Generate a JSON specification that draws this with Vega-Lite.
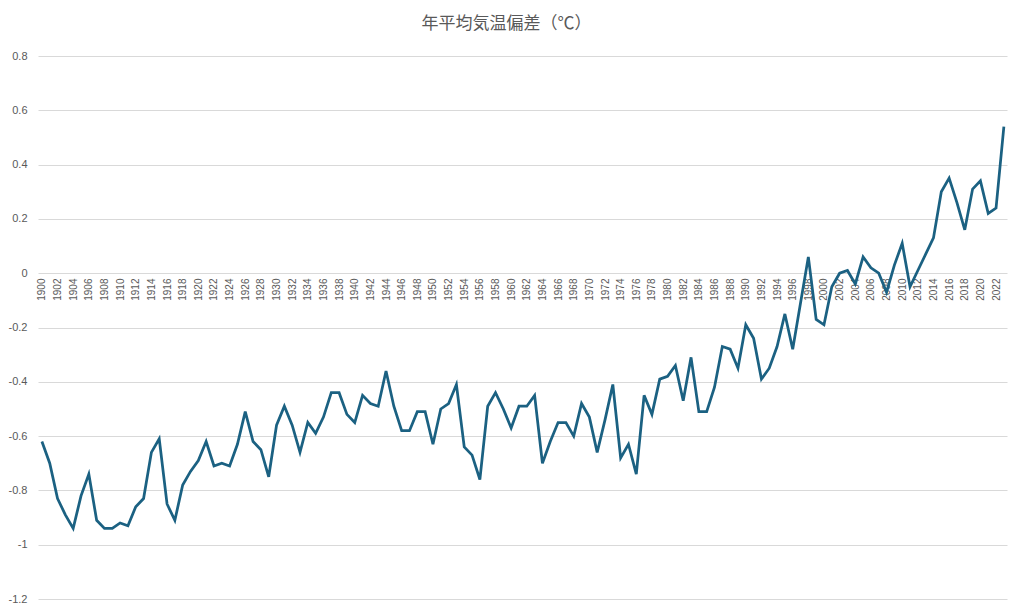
{
  "$schema": "https://vega.github.io/schema/vega-lite/v6.json",
  "autosize": {"type": "none"},
  "width": 969,
  "height": 543,
  "padding": {"left": 38, "top": 56, "right": 17, "bottom": 17},
  "background": "white",
  "title": {
    "text": "年平均気温偏差（℃）",
    "font": "Noto Sans CJK JP",
    "fontSize": 17,
    "fontWeight": "normal",
    "color": "#595959",
    "offset": 17,
    "dx": -16
  },
  "config": {"view": {"stroke": null}},
  "data": {"values": [
    {"year": 1900, "anomaly": -0.62}, {"year": 1901, "anomaly": -0.70}, {"year": 1902, "anomaly": -0.83},
    {"year": 1903, "anomaly": -0.89}, {"year": 1904, "anomaly": -0.94}, {"year": 1905, "anomaly": -0.82},
    {"year": 1906, "anomaly": -0.74}, {"year": 1907, "anomaly": -0.91}, {"year": 1908, "anomaly": -0.94},
    {"year": 1909, "anomaly": -0.94}, {"year": 1910, "anomaly": -0.92}, {"year": 1911, "anomaly": -0.93},
    {"year": 1912, "anomaly": -0.86}, {"year": 1913, "anomaly": -0.83}, {"year": 1914, "anomaly": -0.66},
    {"year": 1915, "anomaly": -0.61}, {"year": 1916, "anomaly": -0.85}, {"year": 1917, "anomaly": -0.91},
    {"year": 1918, "anomaly": -0.78}, {"year": 1919, "anomaly": -0.73}, {"year": 1920, "anomaly": -0.69},
    {"year": 1921, "anomaly": -0.62}, {"year": 1922, "anomaly": -0.71}, {"year": 1923, "anomaly": -0.70},
    {"year": 1924, "anomaly": -0.71}, {"year": 1925, "anomaly": -0.63}, {"year": 1926, "anomaly": -0.51},
    {"year": 1927, "anomaly": -0.62}, {"year": 1928, "anomaly": -0.65}, {"year": 1929, "anomaly": -0.75},
    {"year": 1930, "anomaly": -0.56}, {"year": 1931, "anomaly": -0.49}, {"year": 1932, "anomaly": -0.56},
    {"year": 1933, "anomaly": -0.66}, {"year": 1934, "anomaly": -0.55}, {"year": 1935, "anomaly": -0.59},
    {"year": 1936, "anomaly": -0.53}, {"year": 1937, "anomaly": -0.44}, {"year": 1938, "anomaly": -0.44},
    {"year": 1939, "anomaly": -0.52}, {"year": 1940, "anomaly": -0.55}, {"year": 1941, "anomaly": -0.45},
    {"year": 1942, "anomaly": -0.48}, {"year": 1943, "anomaly": -0.49}, {"year": 1944, "anomaly": -0.36},
    {"year": 1945, "anomaly": -0.49}, {"year": 1946, "anomaly": -0.58}, {"year": 1947, "anomaly": -0.58},
    {"year": 1948, "anomaly": -0.51}, {"year": 1949, "anomaly": -0.51}, {"year": 1950, "anomaly": -0.63},
    {"year": 1951, "anomaly": -0.50}, {"year": 1952, "anomaly": -0.48}, {"year": 1953, "anomaly": -0.41},
    {"year": 1954, "anomaly": -0.64}, {"year": 1955, "anomaly": -0.67}, {"year": 1956, "anomaly": -0.76},
    {"year": 1957, "anomaly": -0.49}, {"year": 1958, "anomaly": -0.44}, {"year": 1959, "anomaly": -0.50},
    {"year": 1960, "anomaly": -0.57}, {"year": 1961, "anomaly": -0.49}, {"year": 1962, "anomaly": -0.49},
    {"year": 1963, "anomaly": -0.45}, {"year": 1964, "anomaly": -0.70}, {"year": 1965, "anomaly": -0.62},
    {"year": 1966, "anomaly": -0.55}, {"year": 1967, "anomaly": -0.55}, {"year": 1968, "anomaly": -0.60},
    {"year": 1969, "anomaly": -0.48}, {"year": 1970, "anomaly": -0.53}, {"year": 1971, "anomaly": -0.66},
    {"year": 1972, "anomaly": -0.54}, {"year": 1973, "anomaly": -0.41}, {"year": 1974, "anomaly": -0.68},
    {"year": 1975, "anomaly": -0.63}, {"year": 1976, "anomaly": -0.74}, {"year": 1977, "anomaly": -0.45},
    {"year": 1978, "anomaly": -0.52}, {"year": 1979, "anomaly": -0.39}, {"year": 1980, "anomaly": -0.38},
    {"year": 1981, "anomaly": -0.34}, {"year": 1982, "anomaly": -0.47}, {"year": 1983, "anomaly": -0.31},
    {"year": 1984, "anomaly": -0.51}, {"year": 1985, "anomaly": -0.51}, {"year": 1986, "anomaly": -0.42},
    {"year": 1987, "anomaly": -0.27}, {"year": 1988, "anomaly": -0.28}, {"year": 1989, "anomaly": -0.35},
    {"year": 1990, "anomaly": -0.19}, {"year": 1991, "anomaly": -0.24}, {"year": 1992, "anomaly": -0.39},
    {"year": 1993, "anomaly": -0.35}, {"year": 1994, "anomaly": -0.27}, {"year": 1995, "anomaly": -0.15},
    {"year": 1996, "anomaly": -0.28}, {"year": 1997, "anomaly": -0.11}, {"year": 1998, "anomaly": 0.06},
    {"year": 1999, "anomaly": -0.17}, {"year": 2000, "anomaly": -0.19}, {"year": 2001, "anomaly": -0.05},
    {"year": 2002, "anomaly": 0.00}, {"year": 2003, "anomaly": 0.01}, {"year": 2004, "anomaly": -0.04},
    {"year": 2005, "anomaly": 0.06}, {"year": 2006, "anomaly": 0.02}, {"year": 2007, "anomaly": 0.00},
    {"year": 2008, "anomaly": -0.07}, {"year": 2009, "anomaly": 0.03}, {"year": 2010, "anomaly": 0.11},
    {"year": 2011, "anomaly": -0.05}, {"year": 2012, "anomaly": 0.01}, {"year": 2013, "anomaly": 0.07},
    {"year": 2014, "anomaly": 0.13}, {"year": 2015, "anomaly": 0.30}, {"year": 2016, "anomaly": 0.35},
    {"year": 2017, "anomaly": 0.26}, {"year": 2018, "anomaly": 0.16}, {"year": 2019, "anomaly": 0.31},
    {"year": 2020, "anomaly": 0.34}, {"year": 2021, "anomaly": 0.22}, {"year": 2022, "anomaly": 0.24},
    {"year": 2023, "anomaly": 0.54}
  ]},
  "mark": {"type": "line", "color": "#1b6182", "strokeWidth": 2.75, "strokeJoin": "miter"},
  "encoding": {
    "x": {
      "field": "year",
      "type": "quantitative",
      "scale": {"domain": [1899.5, 2023.4], "nice": false, "zero": false},
      "axis": {
        "title": null,
        "offset": -327,
        "values": [1900,1902,1904,1906,1908,1910,1912,1914,1916,1918,1920,1922,1924,1926,1928,1930,1932,1934,1936,1938,1940,1942,1944,1946,1948,1950,1952,1954,1956,1958,1960,1962,1964,1966,1968,1970,1972,1974,1976,1978,1980,1982,1984,1986,1988,1990,1992,1994,1996,1998,2000,2002,2004,2006,2008,2010,2012,2014,2016,2018,2020,2022],
        "format": "d",
        "labelAngle": -90,
        "labelFont": "Liberation Sans",
        "labelFontSize": 10,
        "labelColor": "#595959",
        "labelPadding": 6,
        "labelOverlap": false,
        "labelBound": false,
        "labelFlush": false,
        "ticks": false,
        "domain": false,
        "grid": false,
        "zindex": 0
      }
    },
    "y": {
      "field": "anomaly",
      "type": "quantitative",
      "scale": {"domain": [-1.2, 0.8], "nice": false, "zero": false},
      "axis": {
        "title": null,
        "values": [-1.2, -1, -0.8, -0.6, -0.4, -0.2, 0, 0.2, 0.4, 0.6, 0.8],
        "labelExpr": "'' + datum.value",
        "labelFont": "Liberation Sans",
        "labelFontSize": 11,
        "labelColor": "#595959",
        "labelPadding": 11,
        "ticks": false,
        "domain": false,
        "grid": true,
        "gridColor": "#d9d9d9",
        "gridWidth": 1,
        "zindex": 0
      }
    }
  }
}
